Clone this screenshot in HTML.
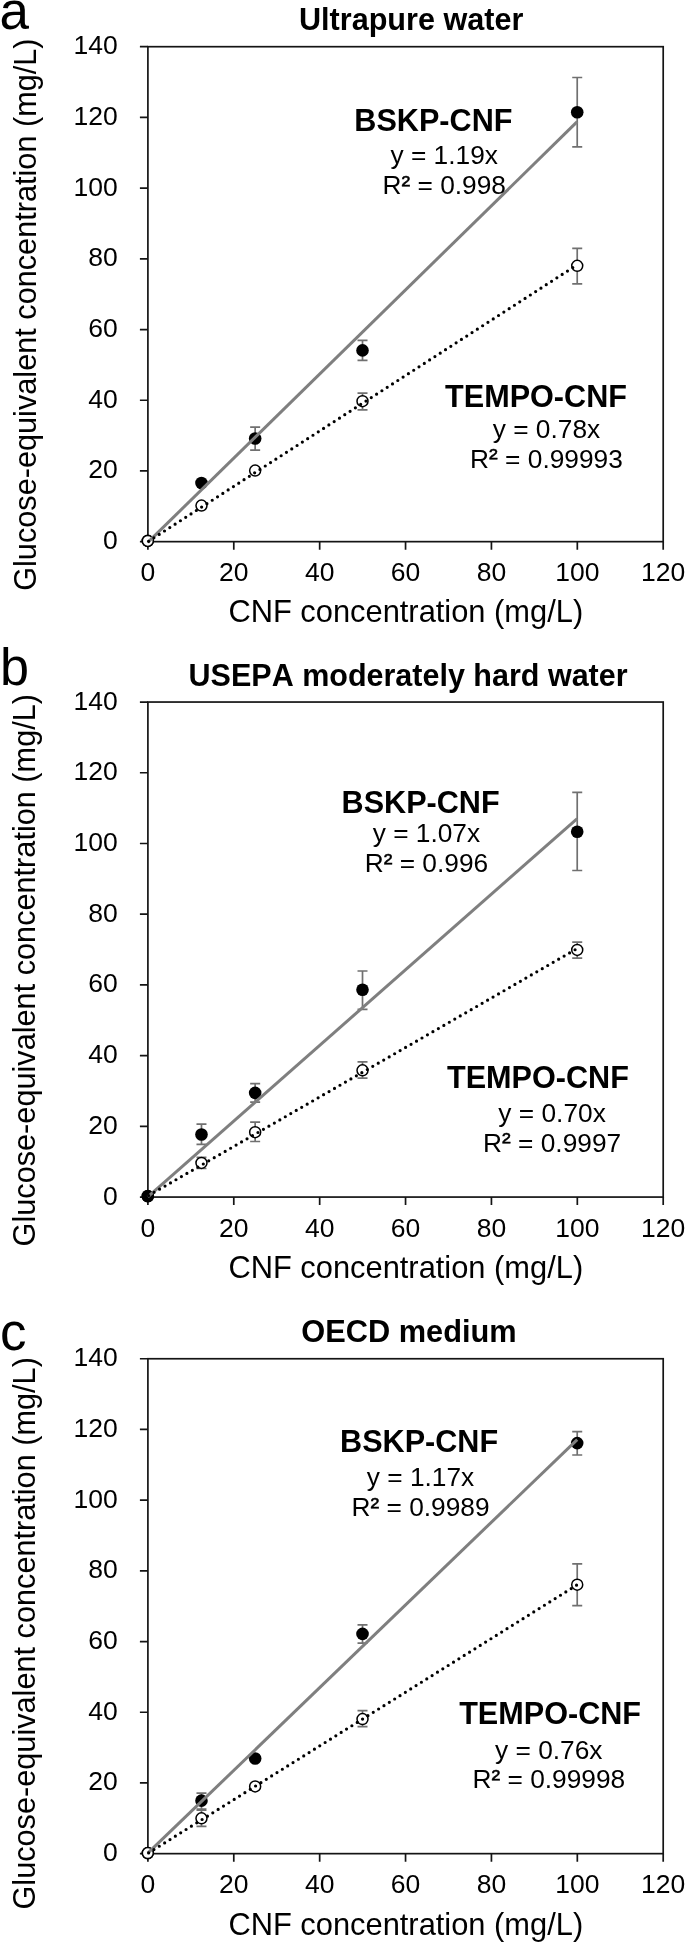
<!DOCTYPE html>
<html><head><meta charset="utf-8"><title>Figure</title>
<style>
html,body{margin:0;padding:0;background:#fff;}
svg{display:block;will-change:transform;}
text{font-family:"Liberation Sans",sans-serif;fill:#000;font-kerning:none;}
.t{font-size:30.6px;font-weight:bold;text-anchor:middle;}
.ax{font-size:30.85px;text-anchor:middle;}
.yl{font-size:30.68px;}
.tk{font-size:26.5px;}
.eq{font-size:26.3px;text-anchor:middle;}
.lt{font-size:53px;}
</style></head><body>
<svg width="685" height="1943" viewBox="0 0 685 1943">
<rect width="685" height="1943" fill="#fff"/>

<g><!-- panel a -->
<text class="lt" style="font-size:53px" x="-0.6" y="29.0">a</text>
<text class="t" style="font-size:30.6px" x="411.2" y="30.20">Ultrapure water</text>
<rect x="147.9" y="46.7" width="515.30" height="494.95" fill="none" stroke="#141414" stroke-width="1.7"/>
<path d="M139.9 541.65H147.9 M139.9 470.94H147.9 M139.9 400.24H147.9 M139.9 329.53H147.9 M139.9 258.82H147.9 M139.9 188.11H147.9 M139.9 117.41H147.9 M139.9 46.70H147.9 M147.90 541.65V549.65 M233.78 541.65V549.65 M319.67 541.65V549.65 M405.55 541.65V549.65 M491.43 541.65V549.65 M577.32 541.65V549.65 M663.20 541.65V549.65" stroke="#141414" stroke-width="1.7" fill="none"/>
<text class="tk" text-anchor="end" x="117.8" y="549.15">0</text>
<text class="tk" text-anchor="end" x="117.8" y="478.44">20</text>
<text class="tk" text-anchor="end" x="117.8" y="407.74">40</text>
<text class="tk" text-anchor="end" x="117.8" y="337.03">60</text>
<text class="tk" text-anchor="end" x="117.8" y="266.32">80</text>
<text class="tk" text-anchor="end" x="117.8" y="195.61">100</text>
<text class="tk" text-anchor="end" x="117.8" y="124.91">120</text>
<text class="tk" text-anchor="end" x="117.8" y="54.20">140</text>
<text class="tk" text-anchor="middle" x="147.90" y="581.40">0</text>
<text class="tk" text-anchor="middle" x="233.78" y="581.40">20</text>
<text class="tk" text-anchor="middle" x="319.67" y="581.40">40</text>
<text class="tk" text-anchor="middle" x="405.55" y="581.40">60</text>
<text class="tk" text-anchor="middle" x="491.43" y="581.40">80</text>
<text class="tk" text-anchor="middle" x="577.32" y="581.40">100</text>
<text class="tk" text-anchor="middle" x="663.20" y="581.40">120</text>
<text class="ax" x="405.8" y="622.4">CNF concentration (mg/L)</text>
<text class="yl" transform="translate(36.2 590.8) rotate(-90)">Glucose-equivalent concentration (mg/L)</text>
<path d="M255.15 427.20V450.10M250.15 427.20h10M250.15 450.10h10 M362.51 340.40V360.30M357.51 340.40h10M357.51 360.30h10 M577.22 77.50V146.90M572.22 77.50h10M572.22 146.90h10 M362.51 393.20V409.90M357.51 393.20h10M357.51 409.90h10 M577.22 248.30V283.90M572.22 248.30h10M572.22 283.90h10" stroke="#707070" stroke-width="1.7" fill="none"/>
<circle cx="147.80" cy="540.90" r="6.3" fill="#000"/>
<circle cx="201.48" cy="483.00" r="6.3" fill="#000"/>
<circle cx="255.15" cy="438.50" r="6.3" fill="#000"/>
<circle cx="362.51" cy="350.40" r="6.3" fill="#000"/>
<circle cx="577.22" cy="112.20" r="6.3" fill="#000"/>
<circle cx="147.80" cy="540.90" r="5.5" fill="#fff" stroke="#000" stroke-width="1.5"/>
<circle cx="201.48" cy="505.60" r="5.5" fill="#fff" stroke="#000" stroke-width="1.5"/>
<circle cx="255.15" cy="470.60" r="5.5" fill="#fff" stroke="#000" stroke-width="1.5"/>
<circle cx="362.51" cy="401.20" r="5.5" fill="#fff" stroke="#000" stroke-width="1.5"/>
<circle cx="577.22" cy="265.80" r="5.5" fill="#fff" stroke="#000" stroke-width="1.5"/>
<line x1="147.80" y1="542.40" x2="577.22" y2="121.69" stroke="#7f7f7f" stroke-width="3.0"/>
<line x1="147.80" y1="541.80" x2="577.22" y2="264.74" stroke="#000" stroke-width="3.2" stroke-linecap="round" stroke-dasharray="0 6.31" stroke-dashoffset="-0.95"/>
<text class="t" x="433.4" y="130.5">BSKP-CNF</text>
<text class="eq" x="444.2" y="164.3">y = 1.19x</text><text class="eq" x="444.2" y="194.3">R<tspan dy="-1.2" stroke="#000" stroke-width="0.45">²</tspan><tspan dy="1.2"> = 0.998</tspan></text>
<text class="t" x="536.0" y="406.5">TEMPO-CNF</text>
<text class="eq" x="546.45" y="438.2">y = 0.78x</text><text class="eq" x="546.45" y="467.5">R<tspan dy="-1.2" stroke="#000" stroke-width="0.45">²</tspan><tspan dy="1.2"> = 0.99993</tspan></text>
</g>
<g><!-- panel b -->
<text class="lt" style="font-size:52.2px" x="-0.1" y="685.4">b</text>
<text class="t" style="font-size:30.5px" x="408.1" y="685.55">USEPA moderately hard water</text>
<rect x="147.9" y="702.04" width="515.30" height="495.03" fill="none" stroke="#141414" stroke-width="1.7"/>
<path d="M139.9 1197.07H147.9 M139.9 1126.35H147.9 M139.9 1055.63H147.9 M139.9 984.91H147.9 M139.9 914.20H147.9 M139.9 843.48H147.9 M139.9 772.76H147.9 M139.9 702.04H147.9 M147.90 1197.07V1205.07 M233.78 1197.07V1205.07 M319.67 1197.07V1205.07 M405.55 1197.07V1205.07 M491.43 1197.07V1205.07 M577.32 1197.07V1205.07 M663.20 1197.07V1205.07" stroke="#141414" stroke-width="1.7" fill="none"/>
<text class="tk" text-anchor="end" x="117.8" y="1204.57">0</text>
<text class="tk" text-anchor="end" x="117.8" y="1133.85">20</text>
<text class="tk" text-anchor="end" x="117.8" y="1063.13">40</text>
<text class="tk" text-anchor="end" x="117.8" y="992.41">60</text>
<text class="tk" text-anchor="end" x="117.8" y="921.70">80</text>
<text class="tk" text-anchor="end" x="117.8" y="850.98">100</text>
<text class="tk" text-anchor="end" x="117.8" y="780.26">120</text>
<text class="tk" text-anchor="end" x="117.8" y="709.54">140</text>
<text class="tk" text-anchor="middle" x="147.90" y="1236.82">0</text>
<text class="tk" text-anchor="middle" x="233.78" y="1236.82">20</text>
<text class="tk" text-anchor="middle" x="319.67" y="1236.82">40</text>
<text class="tk" text-anchor="middle" x="405.55" y="1236.82">60</text>
<text class="tk" text-anchor="middle" x="491.43" y="1236.82">80</text>
<text class="tk" text-anchor="middle" x="577.32" y="1236.82">100</text>
<text class="tk" text-anchor="middle" x="663.20" y="1236.82">120</text>
<text class="ax" x="405.8" y="1277.8">CNF concentration (mg/L)</text>
<text class="yl" transform="translate(34.6 1246.4) rotate(-90)">Glucose-equivalent concentration (mg/L)</text>
<path d="M201.48 1124.20V1144.30M196.48 1124.20h10M196.48 1144.30h10 M255.15 1083.65V1102.05M250.15 1083.65h10M250.15 1102.05h10 M362.51 971.00V1009.30M357.51 971.00h10M357.51 1009.30h10 M577.22 792.30V870.50M572.22 792.30h10M572.22 870.50h10 M201.48 1157.30V1168.50M196.48 1157.30h10M196.48 1168.50h10 M255.15 1122.20V1141.50M250.15 1122.20h10M250.15 1141.50h10 M362.51 1061.90V1078.10M357.51 1061.90h10M357.51 1078.10h10 M577.22 942.10V958.10M572.22 942.10h10M572.22 958.10h10" stroke="#707070" stroke-width="1.7" fill="none"/>
<circle cx="147.80" cy="1196.30" r="5.5" fill="#fff" stroke="#000" stroke-width="1.5"/>
<circle cx="201.48" cy="1162.90" r="5.5" fill="#fff" stroke="#000" stroke-width="1.5"/>
<circle cx="255.15" cy="1132.20" r="5.5" fill="#fff" stroke="#000" stroke-width="1.5"/>
<circle cx="362.51" cy="1070.30" r="5.5" fill="#fff" stroke="#000" stroke-width="1.5"/>
<circle cx="577.22" cy="949.90" r="5.5" fill="#fff" stroke="#000" stroke-width="1.5"/>
<circle cx="147.80" cy="1196.00" r="6.3" fill="#000"/>
<circle cx="201.48" cy="1134.45" r="6.3" fill="#000"/>
<circle cx="255.15" cy="1092.90" r="6.3" fill="#000"/>
<circle cx="362.51" cy="989.70" r="6.3" fill="#000"/>
<circle cx="577.22" cy="831.70" r="6.3" fill="#000"/>
<line x1="147.80" y1="1196.80" x2="577.22" y2="818.51" stroke="#7f7f7f" stroke-width="3.0"/>
<line x1="147.80" y1="1196.00" x2="577.22" y2="948.52" stroke="#000" stroke-width="3.2" stroke-linecap="round" stroke-dasharray="0 6.31" stroke-dashoffset="-0.95"/>
<text class="t" x="420.6" y="812.5">BSKP-CNF</text>
<text class="eq" x="426.4" y="842.2">y = 1.07x</text><text class="eq" x="426.4" y="872.0">R<tspan dy="-1.2" stroke="#000" stroke-width="0.45">²</tspan><tspan dy="1.2"> = 0.996</tspan></text>
<text class="t" x="537.9" y="1087.5">TEMPO-CNF</text>
<text class="eq" x="552.1" y="1122.0">y = 0.70x</text><text class="eq" x="552.1" y="1151.6">R<tspan dy="-1.2" stroke="#000" stroke-width="0.45">²</tspan><tspan dy="1.2"> = 0.9997</tspan></text>
</g>
<g><!-- panel c -->
<text class="lt" style="font-size:53px" x="0" y="1349.7">c</text>
<text class="t" style="font-size:30.75px" x="409.0" y="1342.20">OECD medium</text>
<rect x="147.9" y="1358.75" width="515.30" height="494.90" fill="none" stroke="#141414" stroke-width="1.7"/>
<path d="M139.9 1853.65H147.9 M139.9 1782.95H147.9 M139.9 1712.25H147.9 M139.9 1641.55H147.9 M139.9 1570.85H147.9 M139.9 1500.15H147.9 M139.9 1429.45H147.9 M139.9 1358.75H147.9 M147.90 1853.65V1861.65 M233.78 1853.65V1861.65 M319.67 1853.65V1861.65 M405.55 1853.65V1861.65 M491.43 1853.65V1861.65 M577.32 1853.65V1861.65 M663.20 1853.65V1861.65" stroke="#141414" stroke-width="1.7" fill="none"/>
<text class="tk" text-anchor="end" x="117.8" y="1861.15">0</text>
<text class="tk" text-anchor="end" x="117.8" y="1790.45">20</text>
<text class="tk" text-anchor="end" x="117.8" y="1719.75">40</text>
<text class="tk" text-anchor="end" x="117.8" y="1649.05">60</text>
<text class="tk" text-anchor="end" x="117.8" y="1578.35">80</text>
<text class="tk" text-anchor="end" x="117.8" y="1507.65">100</text>
<text class="tk" text-anchor="end" x="117.8" y="1436.95">120</text>
<text class="tk" text-anchor="end" x="117.8" y="1366.25">140</text>
<text class="tk" text-anchor="middle" x="147.90" y="1893.40">0</text>
<text class="tk" text-anchor="middle" x="233.78" y="1893.40">20</text>
<text class="tk" text-anchor="middle" x="319.67" y="1893.40">40</text>
<text class="tk" text-anchor="middle" x="405.55" y="1893.40">60</text>
<text class="tk" text-anchor="middle" x="491.43" y="1893.40">80</text>
<text class="tk" text-anchor="middle" x="577.32" y="1893.40">100</text>
<text class="tk" text-anchor="middle" x="663.20" y="1893.40">120</text>
<text class="ax" x="405.8" y="1934.8">CNF concentration (mg/L)</text>
<text class="yl" transform="translate(34.6 1909.5) rotate(-90)">Glucose-equivalent concentration (mg/L)</text>
<path d="M201.48 1793.10V1809.00M196.48 1793.10h10M196.48 1809.00h10 M362.51 1624.80V1643.20M357.51 1624.80h10M357.51 1643.20h10 M577.22 1431.70V1455.00M572.22 1431.70h10M572.22 1455.00h10 M201.48 1810.10V1826.35M196.48 1810.10h10M196.48 1826.35h10 M362.51 1710.70V1726.70M357.51 1710.70h10M357.51 1726.70h10 M577.22 1563.90V1605.70M572.22 1563.90h10M572.22 1605.70h10" stroke="#707070" stroke-width="1.7" fill="none"/>
<circle cx="147.80" cy="1853.10" r="6.3" fill="#000"/>
<circle cx="201.48" cy="1800.65" r="6.3" fill="#000"/>
<circle cx="255.15" cy="1758.55" r="6.3" fill="#000"/>
<circle cx="362.51" cy="1633.90" r="6.3" fill="#000"/>
<circle cx="577.22" cy="1443.10" r="6.3" fill="#000"/>
<circle cx="147.80" cy="1853.10" r="5.5" fill="#fff" stroke="#000" stroke-width="1.5"/>
<circle cx="201.48" cy="1818.30" r="5.5" fill="#fff" stroke="#000" stroke-width="1.5"/>
<circle cx="255.15" cy="1786.40" r="5.5" fill="#fff" stroke="#000" stroke-width="1.5"/>
<circle cx="362.51" cy="1719.10" r="5.5" fill="#fff" stroke="#000" stroke-width="1.5"/>
<circle cx="577.22" cy="1584.70" r="5.5" fill="#fff" stroke="#000" stroke-width="1.5"/>
<line x1="147.80" y1="1853.20" x2="577.22" y2="1439.56" stroke="#7f7f7f" stroke-width="3.0"/>
<line x1="147.80" y1="1853.45" x2="577.22" y2="1584.76" stroke="#000" stroke-width="3.2" stroke-linecap="round" stroke-dasharray="0 6.31" stroke-dashoffset="-0.95"/>
<text class="t" x="419.1" y="1452.2">BSKP-CNF</text>
<text class="eq" x="420.5" y="1486.1">y = 1.17x</text><text class="eq" x="420.5" y="1516.2">R<tspan dy="-1.2" stroke="#000" stroke-width="0.45">²</tspan><tspan dy="1.2"> = 0.9989</tspan></text>
<text class="t" x="550.1" y="1724.05">TEMPO-CNF</text>
<text class="eq" x="548.8" y="1759.0">y = 0.76x</text><text class="eq" x="548.8" y="1788.0">R<tspan dy="-1.2" stroke="#000" stroke-width="0.45">²</tspan><tspan dy="1.2"> = 0.99998</tspan></text>
</g>
</svg></body></html>
